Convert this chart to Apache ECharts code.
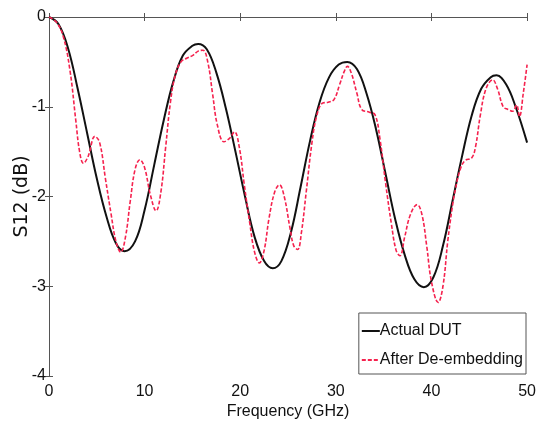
<!DOCTYPE html>
<html><head><meta charset="utf-8">
<script src="https://cdn.jsdelivr.net/npm/echarts@6/dist/echarts.min.js"></script>
<style>html,body{margin:0;padding:0;background:#fff}#c{width:539px;height:427px}</style>
</head><body><div id="c"></div>
<script>
const xTicks = [0, 10, 20, 30, 40, 50];
const yTicks = [0, -1, -2, -3, -4];
const seriesNames = ['Actual DUT', 'After De-embedding'];
const actualFreq = [0,1,2,3,4,5,6,7,7.9,9,10,11,12,13,14,15,15.6,16.5,17.5,18.5,19.5,20.5,21.5,22.5,23.4,24.3,25.3,26.3,27.3,28.3,29.3,30.3,31.2,32.2,33.2,34.2,35.2,36.2,37.2,38.2,39.2,40.2,41.2,42.2,43.2,44.2,45.2,46.2,46.8,47.8,48.8,50];
const actualS12 = [0,-0.08,-0.35,-0.8,-1.3,-1.8,-2.22,-2.52,-2.61,-2.5,-2.15,-1.65,-1.15,-0.72,-0.43,-0.32,-0.3,-0.36,-0.62,-1.02,-1.5,-2.0,-2.45,-2.72,-2.8,-2.72,-2.4,-1.9,-1.38,-0.95,-0.67,-0.53,-0.5,-0.58,-0.85,-1.25,-1.75,-2.25,-2.65,-2.92,-3.01,-2.9,-2.55,-2.05,-1.55,-1.1,-0.8,-0.67,-0.65,-0.75,-1.0,-1.4];
const deembFreq = [0,0.8,1.5,2.2,2.8,3.2,3.6,4.1,4.8,5.3,5.9,6.5,7.0,7.5,8.0,8.5,9.0,9.5,10.0,10.6,11.2,11.7,12.2,12.7,13.2,13.8,14.4,15.0,15.6,16.1,16.6,17.1,17.6,18.3,18.9,19.4,19.9,20.4,21.0,21.5,22.0,22.5,23.0,23.6,24.1,24.6,25.2,25.6,26.0,26.4,26.9,27.5,28.0,28.6,29.2,29.8,30.4,30.9,31.2,31.6,32.2,32.7,33.5,34.1,34.6,35.2,35.8,36.3,36.7,37.2,37.8,38.5,39.0,39.5,40.0,40.7,41.2,41.7,42.2,42.5,43.0,43.5,44.2,44.6,45.1,45.7,46.4,46.9,47.5,48.0,48.5,48.9,49.2,49.6,50];
const deembS12 = [0,-0.06,-0.22,-0.6,-1.15,-1.5,-1.63,-1.55,-1.33,-1.4,-1.8,-2.2,-2.5,-2.62,-2.45,-2.05,-1.7,-1.59,-1.68,-1.98,-2.16,-1.95,-1.45,-0.95,-0.65,-0.5,-0.46,-0.43,-0.38,-0.37,-0.5,-0.85,-1.2,-1.39,-1.35,-1.28,-1.45,-1.85,-2.3,-2.62,-2.74,-2.6,-2.25,-1.95,-1.87,-2.0,-2.35,-2.55,-2.59,-2.4,-1.95,-1.4,-1.1,-0.96,-0.95,-0.92,-0.75,-0.6,-0.55,-0.62,-0.85,-1.03,-1.06,-1.09,-1.35,-1.85,-2.3,-2.6,-2.66,-2.45,-2.2,-2.09,-2.2,-2.55,-2.95,-3.18,-3.0,-2.5,-2.1,-1.92,-1.7,-1.6,-1.57,-1.45,-1.1,-0.8,-0.7,-0.8,-1.0,-1.03,-1.05,-0.98,-1.11,-0.85,-0.53];

const font = '"Liberation Sans", Arial, sans-serif';
const red = '#f5224e';
const chart = echarts.init(document.getElementById('c'));
const axLine = {show: true, lineStyle: {color: '#555', width: 1}};
chart.setOption({
  animation: false,
  backgroundColor: '#fff',
  grid: {left: 49, right: 11, top: 17, bottom: 51, containLabel: false},
  legend: {
    orient: 'vertical', right: 13, bottom: 53,
    data: [
      {name: seriesNames[0], itemStyle: {opacity: 0}},
      {name: seriesNames[1], itemStyle: {opacity: 0}}
    ],
    backgroundColor: '#fff',
    borderColor: '#555', borderWidth: 1,
    padding: [10, 3, 6, 2], itemGap: 13, itemWidth: 18, itemHeight: 12,
    textStyle: {fontFamily: font, fontSize: 16, color: '#111', padding: [0, 0, 0, -5]}
  },
  xAxis: [{
    type: 'value', min: 0, max: 50, interval: 10,
    name: 'Frequency (GHz)', nameLocation: 'middle', nameGap: 28, nameMoveOverlap: false,
    nameTextStyle: {fontFamily: font, fontSize: 16, color: '#111'},
    axisLine: axLine, axisTick: {show: true, inside: true, length: 4, lineStyle: {color: '#555'}},
    axisLabel: {fontFamily: font, fontSize: 16, color: '#111', margin: 8, formatter: v => xTicks.includes(v) ? String(v) : ''},
    splitLine: {show: false}
  }, {
    type: 'value', position: 'top', min: 0, max: 50, interval: 10,
    axisLine: axLine, axisTick: {show: true, inside: true, length: 4, lineStyle: {color: '#555'}},
    axisLabel: {show: false}, splitLine: {show: false}
  }],
  yAxis: [{
    type: 'value', min: -4, max: 0, interval: 1,
    name: 'S12 (dB)', nameLocation: 'middle', nameGap: 17, nameRotate: 90, nameMoveOverlap: false,
    nameTextStyle: {fontFamily: 'DejaVu Sans, sans-serif', fontSize: 19, color: '#111'},
    axisLine: axLine, axisTick: {show: true, inside: true, length: 4, lineStyle: {color: '#555'}},
    axisLabel: {fontFamily: font, fontSize: 16, color: '#111', margin: 3, formatter: v => yTicks.includes(v) ? String(v) : ''},
    splitLine: {show: false}
  }, {
    type: 'value', position: 'right', min: -4, max: 0, interval: 1,
    axisLine: axLine, axisTick: {show: true, inside: true, length: 4, lineStyle: {color: '#555'}},
    axisLabel: {show: false}, splitLine: {show: false}
  }],
  series: [{
    name: seriesNames[0], type: 'line', smooth: 0.4, symbol: 'none',
    data: actualFreq.map((f, i) => [f, actualS12[i]]),
    lineStyle: {color: '#111', width: 2}, itemStyle: {color: '#111'}, z: 2
  }, {
    name: seriesNames[1], type: 'line', smooth: 0.4, symbol: 'none',
    data: deembFreq.map((f, i) => [f, deembS12[i]]),
    lineStyle: {color: red, width: 1.6, type: [4, 2]}, itemStyle: {color: red}, z: 3
  }]
});
</script></body></html>
